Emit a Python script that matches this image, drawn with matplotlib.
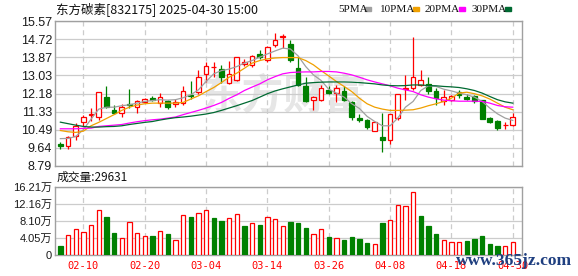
import matplotlib.pyplot as plt
import numpy as np

plt.rcParams['font.family'] = ['Liberation Sans', 'Noto Sans CJK SC', 'DejaVu Sans']

# =====================
# Data
# =====================
title = "东方碳素[832175] 2025-04-30 15:00"

opens = [9.83, 9.71, 10.17, 10.83, 11.18, 11.08, 12.01, 11.39, 11.26, 11.70,
         11.57, 11.78, 11.95, 11.73, 11.84, 11.70, 11.73, 12.10, 12.27, 13.10,
         13.41, 13.32, 12.66, 12.79, 13.56, 13.50, 14.03, 13.75, 14.44, 14.84,
         14.50, 13.36, 12.51, 11.86, 11.89, 12.35, 12.20, 12.32, 11.76, 11.04,
         10.95, 10.41, 10.14, 10.02, 11.03, 12.38, 12.43, 12.60, 12.62, 12.30,
         11.84, 11.89, 12.24, 12.02, 12.07, 11.89, 11.04, 10.89, 10.70, 10.72]
highs = [9.89, 10.17, 10.80, 11.18, 11.50, 12.26, 12.51, 11.64, 11.70, 12.40,
         11.88, 11.99, 12.07, 12.20, 11.88, 11.92, 12.51, 12.77, 13.28, 13.67,
         13.67, 13.52, 13.70, 13.88, 13.78, 13.98, 14.22, 14.40, 15.00, 14.97,
         14.66, 13.91, 12.97, 12.04, 12.59, 12.51, 12.59, 12.51, 11.81, 11.23,
         10.98, 10.87, 11.29, 11.21, 12.16, 13.05, 14.84, 13.28, 12.95, 12.43,
         12.35, 12.12, 12.35, 12.16, 12.12, 11.89, 11.10, 10.92, 10.84, 11.26]
lows = [9.58, 9.58, 10.02, 10.67, 10.90, 10.95, 11.50, 11.20, 11.07, 11.50,
        11.26, 11.73, 11.81, 11.54, 11.45, 11.54, 11.65, 11.92, 12.16, 12.74,
        12.97, 12.69, 12.63, 12.76, 13.47, 13.44, 13.78, 13.67, 14.37, 14.30,
        13.63, 12.51, 11.76, 11.39, 11.81, 12.16, 11.76, 11.81, 10.95, 10.83,
        10.52, 10.41, 9.43, 9.83, 10.95, 11.86, 12.35, 12.51, 12.16, 11.65,
        11.65, 11.81, 11.95, 11.89, 11.73, 11.00, 10.78, 10.45, 10.52, 10.67]
closes = [9.71, 10.14, 10.64, 11.08, 11.21, 12.26, 11.53, 11.29, 11.54, 11.64,
          11.84, 11.90, 11.88, 12.01, 11.53, 11.76, 12.29, 12.04, 12.94, 13.47,
          13.44, 12.94, 13.10, 13.88, 13.66, 13.93, 13.88, 14.37, 14.68, 14.87,
          13.75, 12.58, 11.81, 12.01, 12.43, 12.20, 12.43, 11.89, 11.08, 10.92,
          10.61, 10.84, 9.99, 11.21, 12.16, 12.43, 12.94, 12.79, 12.32, 11.99,
          12.02, 12.04, 12.12, 11.92, 11.81, 11.01, 10.83, 10.55, 10.73, 11.10]

# volume in 万 shares
volumes = [2.12, 4.64, 6.06, 5.43, 7.00, 10.54, 8.97, 5.19, 4.01, 7.79,
           5.11, 4.40, 4.48, 5.66, 4.95, 3.54, 9.44, 8.97, 9.83, 10.54,
           8.73, 8.02, 8.65, 9.59, 6.84, 7.47, 7.08, 8.89, 8.41, 6.76,
           7.79, 7.55, 6.37, 4.88, 6.06, 4.25, 3.93, 3.54, 4.25, 3.77,
           2.83, 2.52, 7.55, 8.18, 11.72, 11.48, 15.02, 9.20, 6.84, 4.95,
           3.46, 3.07, 3.07, 3.30, 3.70, 4.40, 2.59, 2.12, 2.04, 2.96]
last_volume = 29631

ma5 = [10.07, 10.08, 10.17, 10.49, 10.98, 11.45, 11.54, 11.54, 11.61, 11.65,
       11.73, 11.81, 11.85, 11.89, 11.87, 11.89, 11.98, 12.12, 12.35, 12.74,
       13.10, 13.25, 13.32, 13.44, 13.60, 13.72, 13.88, 14.03, 14.17, 14.30,
       14.26, 13.94, 13.44, 13.05, 12.79, 12.38, 12.20, 12.01, 11.70, 11.48,
       11.11, 10.87, 10.67, 10.67, 11.03, 11.54, 11.81, 12.32, 12.54, 12.51,
       12.38, 12.30, 12.20, 12.12, 12.01, 11.81, 11.50, 11.23, 11.03, 10.92]
ma10 = [10.45, 10.39, 10.36, 10.42, 10.67, 10.83, 11.01, 11.19, 11.39, 11.54,
        11.64, 11.70, 11.73, 11.73, 11.73, 11.73, 11.76, 11.92, 12.07, 12.27,
        12.46, 12.69, 12.94, 13.13, 13.36, 13.60, 13.72, 13.80, 13.84, 13.86,
        13.86, 13.86, 13.72, 13.52, 13.25, 13.00, 12.74, 12.51, 12.27, 11.96,
        11.70, 11.54, 11.45, 11.39, 11.39, 11.40, 11.42, 11.50, 11.61, 11.70,
        11.81, 11.96, 12.20, 12.24, 12.17, 12.07, 11.92, 11.73, 11.54, 11.42]
ma20 = [10.53, 10.53, 10.53, 10.55, 10.56, 10.64, 10.67, 10.70, 10.73, 10.80,
        10.86, 10.91, 10.95, 10.98, 11.03, 11.08, 11.19, 11.29, 11.39, 11.50,
        11.62, 11.76, 11.95, 12.12, 12.32, 12.48, 12.63, 12.82, 12.97, 13.10,
        13.16, 13.18, 13.19, 13.19, 13.21, 13.21, 13.19, 13.13, 13.05, 12.94,
        12.82, 12.72, 12.63, 12.54, 12.43, 12.35, 12.27, 12.12, 12.01, 11.93,
        11.87, 11.84, 11.82, 11.82, 11.82, 11.81, 11.73, 11.62, 11.56, 11.54]
ma30 = [10.84, 10.77, 10.70, 10.64, 10.61, 10.61, 10.63, 10.64, 10.67, 10.73,
        10.78, 10.83, 10.87, 10.94, 11.00, 11.05, 11.08, 11.12, 11.17, 11.22,
        11.29, 11.39, 11.50, 11.61, 11.73, 11.85, 12.01, 12.17, 12.30, 12.40,
        12.49, 12.58, 12.66, 12.69, 12.71, 12.72, 12.72, 12.72, 12.71, 12.69,
        12.66, 12.63, 12.58, 12.55, 12.54, 12.55, 12.58, 12.58, 12.55, 12.54,
        12.51, 12.49, 12.46, 12.40, 12.32, 12.20, 12.04, 11.89, 11.79, 11.73]

date_ticks = [3, 11, 19, 27, 35, 43, 51, 59]
date_labels = ["02-10", "02-20", "03-04", "03-14", "03-26", "04-08", "04-18", "04-30"]

price_ticks = [8.79, 9.64, 10.49, 11.33, 12.18, 13.03, 13.87, 14.72, 15.57]
vol_ticks = [0, 4.05, 8.10, 12.16, 16.21]
vol_labels = ["0", "4.05万", "8.10万", "12.16万", "16.21万"]

ma_names = ["5PMA", "10PMA", "20PMA", "30PMA"]
ma_colors = ["#a0a0a0", "#f0a000", "#ff00ff", "#006a32"]

RED = "#ff0000"
GREEN = "#008000"
GRID = "#cccccc"
FRAME = "#a0a0a0"

# =====================
# Figure / axes
# =====================
W, H = 578, 276
fig = plt.figure(figsize=(W / 100, H / 100), dpi=100)
ax = fig.add_axes([55 / W, 1 - 166 / H, 467 / W, 145 / H])
axv = fig.add_axes([55 / W, 1 - 255 / H, 467 / W, 68.5 / H])

o = np.array(opens)
c = np.array(closes)
hi = np.array(highs)
lo = np.array(lows)
x = np.arange(len(o))
up = c >= o

# --- candlesticks ---
ax.vlines(x[up], lo[up], hi[up], color=RED, lw=0.9, zorder=3)
ax.vlines(x[~up], lo[~up], hi[~up], color=GREEN, lw=0.9, zorder=3)
body_bot = np.minimum(o, c)
body_h = np.maximum(np.abs(c - o), 0.015)
ax.bar(x[up], body_h[up], bottom=body_bot[up], width=0.62,
       facecolor="white", edgecolor=RED, linewidth=0.9, zorder=4)
ax.bar(x[~up], body_h[~up], bottom=body_bot[~up], width=0.62,
       facecolor=GREEN, edgecolor=GREEN, linewidth=0.9, zorder=4)

# --- moving averages ---
for vals, col in zip([ma5, ma10, ma20, ma30], ma_colors):
    ax.plot(x, vals, color=col, lw=0.9, zorder=5)

# faint watermark
ax.text(0.49, 0.48, "东方财富", transform=ax.transAxes, fontsize=30,
        family=["Noto Sans CJK SC"], color="#e6e6e6", style="italic",
        fontweight="bold", ha="center", va="center", zorder=1)

ax.set_xlim(-0.7, 60.2)
ax.set_ylim(8.79, 15.57)
ax.set_yticks(price_ticks)
ax.set_yticklabels([f"{t:.2f}" for t in price_ticks], fontsize=9, color="#1a1a1a")
ax.set_xticks(date_ticks)
ax.set_xticklabels([])
ax.tick_params(length=0, pad=2)
ax.grid(axis="y", color=GRID, lw=0.9, ls="-", zorder=0)
ax.grid(axis="x", color=GRID, lw=0.9, ls=(0, (4, 3)), zorder=0)
for s in ax.spines.values():
    s.set_color(FRAME)
    s.set_linewidth(1.0)

# --- volume ---
vol = np.array(volumes)
vol_up = np.empty(len(c), dtype=bool)
vol_up[0] = c[0] >= o[0]
vol_up[1:] = c[1:] >= c[:-1]
axv.bar(x[vol_up], vol[vol_up], width=0.56, facecolor="white",
        edgecolor=RED, linewidth=0.9, zorder=3)
axv.bar(x[~vol_up], vol[~vol_up], width=0.56, facecolor=GREEN,
        edgecolor=GREEN, linewidth=0.9, zorder=3)
axv.set_xlim(-0.7, 60.2)
axv.set_ylim(0, 16.21)
axv.set_yticks(vol_ticks)
axv.set_yticklabels(vol_labels, fontsize=8, color="#1a1a1a")
axv.set_xticks(date_ticks)
axv.set_xticklabels(date_labels, fontsize=7.5, color=RED, family="DejaVu Sans Mono")
axv.tick_params(length=0, pad=2)
axv.tick_params(axis="x", pad=4)
axv.grid(axis="y", color=GRID, lw=0.9, ls="-", zorder=0)
axv.grid(axis="x", color=GRID, lw=0.9, ls=(0, (4, 3)), zorder=0)
for s in axv.spines.values():
    s.set_color(FRAME)
    s.set_linewidth(1.0)

# --- header texts ---
fig.text(56 / W, 1 - 9 / H, title, fontsize=9, va="center", ha="left",
         family=["Noto Sans CJK SC", "DejaVu Sans"], color="#111111")
fig.text(57 / W, 1 - 177 / H, f"成交量:{last_volume}", fontsize=8.5, va="center",
         ha="left", family=["Noto Sans CJK SC", "DejaVu Sans"], color="#111111")

leg_x = [338, 380, 425, 472]
box_x = [365, 413, 459, 505]
for name, col, tx, bx in zip(ma_names, ma_colors, leg_x, box_x):
    fig.text(tx / W, 1 - 9 / H, name, fontsize=8, va="center", ha="left",
             family="Liberation Serif", color="#111111")
    fig.patches.append(plt.Rectangle((bx / W, 1 - 11 / H), 6 / W, 4 / H,
                                     transform=fig.transFigure, color=col))

# site watermark
fig.text(514 / W, 1 - 261 / H, "www.365jz.com", fontsize=12.5, ha="center",
         va="center", family="Liberation Serif", fontweight="bold",
         color="#1f3f80", zorder=10)

fig.savefig("out.png", dpi=100)
